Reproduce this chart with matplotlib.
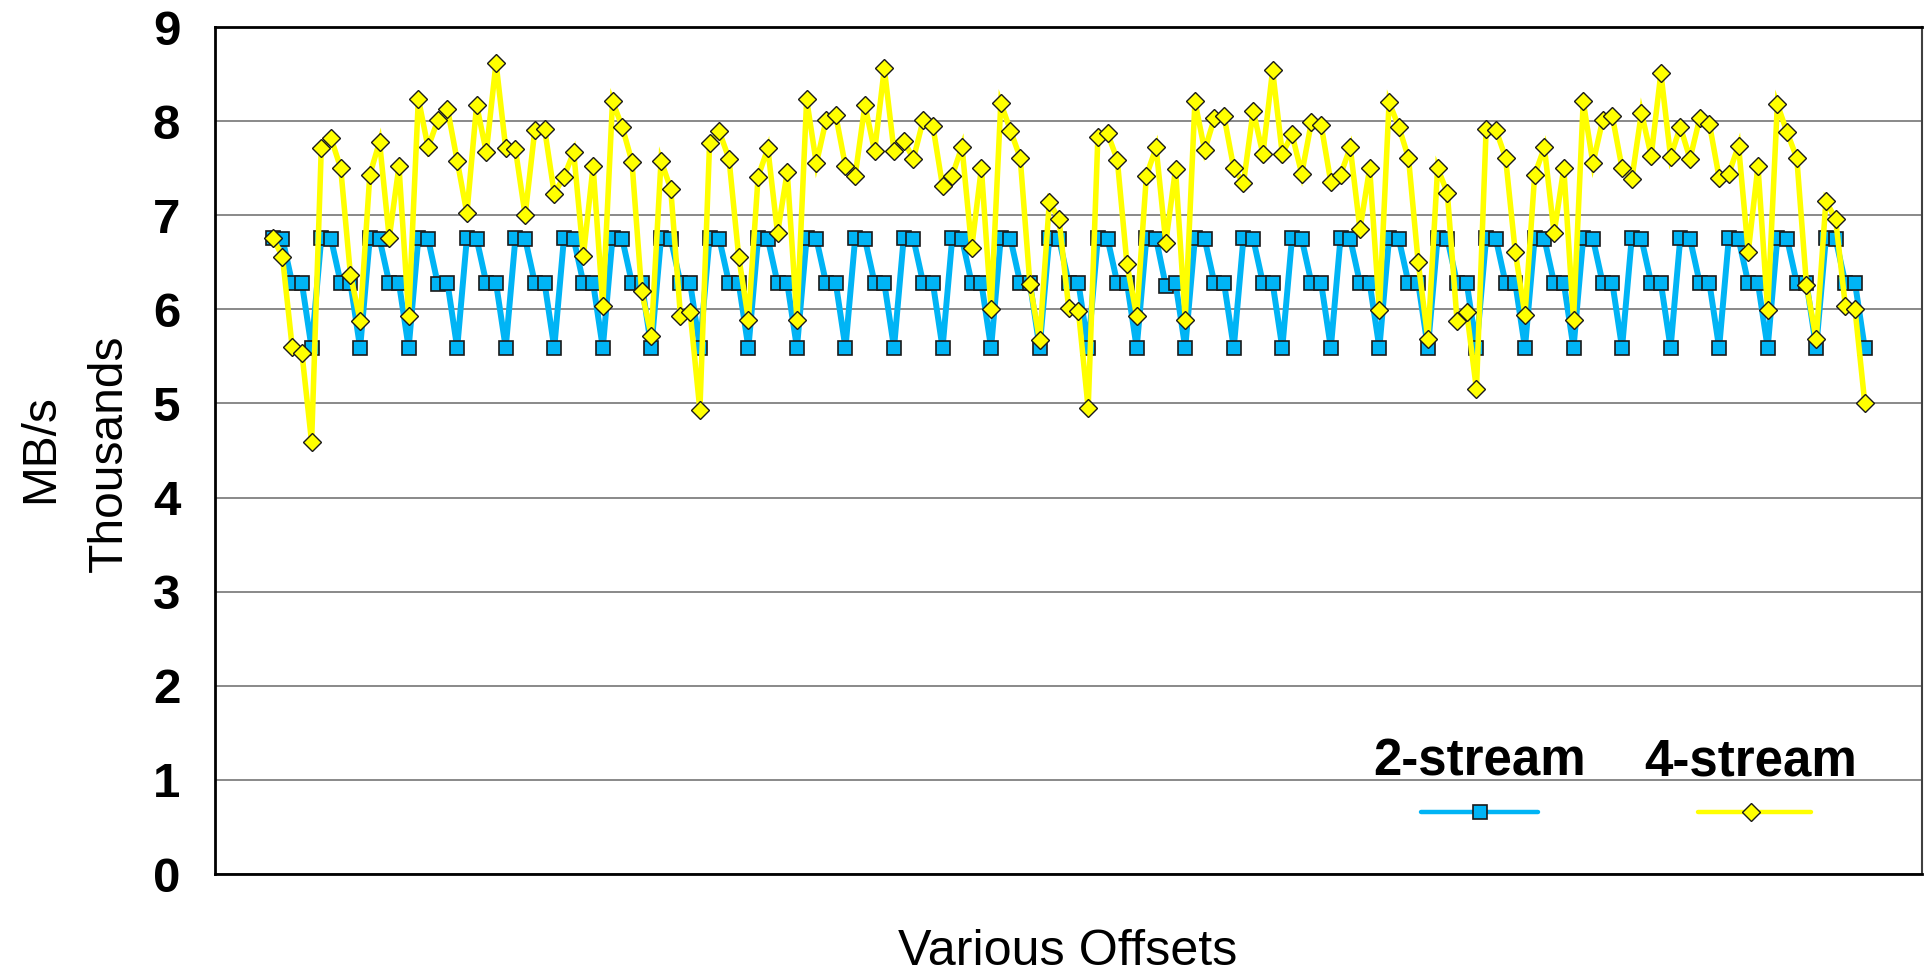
import matplotlib
matplotlib.use("Agg")
import matplotlib.pyplot as plt
import numpy as np
from matplotlib.lines import Line2D

plt.rcParams['font.family'] = ['Liberation Sans', 'DejaVu Sans']

# ---------------- data ----------------
series_names = ["2-stream", "4-stream"]
y_ticks = [0, 1, 2, 3, 4, 5, 6, 7, 8, 9]
x_label = "Various Offsets"
y_label_1 = "MB/s"
y_label_2 = "Thousands"

two_stream = [
    6.76, 6.75, 6.28, 6.28, 5.59,
    6.76, 6.75, 6.28, 6.28, 5.59,
    6.76, 6.75, 6.28, 6.28, 5.59,
    6.76, 6.75, 6.27, 6.28, 5.59,
    6.76, 6.75, 6.28, 6.28, 5.59,
    6.76, 6.75, 6.28, 6.28, 5.59,
    6.76, 6.75, 6.28, 6.28, 5.59,
    6.76, 6.75, 6.28, 6.28, 5.59,
    6.76, 6.75, 6.28, 6.28, 5.59,
    6.76, 6.75, 6.28, 6.28, 5.59,
    6.76, 6.75, 6.28, 6.28, 5.59,
    6.76, 6.75, 6.28, 6.28, 5.59,
    6.76, 6.75, 6.28, 6.28, 5.59,
    6.76, 6.75, 6.28, 6.28, 5.59,
    6.76, 6.75, 6.28, 6.28, 5.59,
    6.76, 6.75, 6.28, 6.28, 5.59,
    6.76, 6.75, 6.28, 6.28, 5.59,
    6.76, 6.75, 6.28, 6.28, 5.59,
    6.76, 6.75, 6.25, 6.28, 5.59,
    6.76, 6.75, 6.28, 6.28, 5.59,
    6.76, 6.75, 6.28, 6.28, 5.59,
    6.76, 6.75, 6.28, 6.28, 5.59,
    6.76, 6.75, 6.28, 6.28, 5.59,
    6.76, 6.75, 6.28, 6.28, 5.59,
    6.76, 6.75, 6.28, 6.28, 5.59,
    6.76, 6.75, 6.28, 6.28, 5.59,
    6.76, 6.75, 6.28, 6.28, 5.59,
    6.76, 6.75, 6.28, 6.28, 5.59,
    6.76, 6.75, 6.28, 6.28, 5.59,
    6.76, 6.75, 6.28, 6.28, 5.59,
    6.76, 6.75, 6.28, 6.28, 5.59,
    6.76, 6.75, 6.28, 6.28, 5.59,
    6.76, 6.75, 6.28, 6.28, 5.59,
]

four_stream = [
    6.76, 6.56, 5.60, 5.54, 4.59, 7.71, 7.82, 7.50, 6.37, 5.88,
    7.43, 7.78, 6.76, 7.52, 5.93, 8.24, 7.72, 8.01, 8.13, 7.58,
    7.02, 8.17, 7.67, 8.62, 7.71, 7.70, 7.00, 7.91, 7.92, 7.23,
    7.41, 7.67, 6.57, 7.52, 6.04, 8.21, 7.94, 7.57, 6.19, 5.72,
    7.58, 7.28, 5.93, 5.97, 4.93, 7.77, 7.89, 7.60, 6.56, 5.89,
    7.41, 7.71, 6.81, 7.46, 5.89, 8.23, 7.55, 8.01, 8.06, 7.52,
    7.42, 8.17, 7.68, 8.56, 7.68, 7.79, 7.60, 8.01, 7.95, 7.31,
    7.42, 7.73, 6.65, 7.50, 6.00, 8.19, 7.90, 7.61, 6.27, 5.67,
    7.14, 6.96, 6.01, 5.98, 4.95, 7.83, 7.87, 7.59, 6.48, 5.93,
    7.42, 7.72, 6.71, 7.49, 5.89, 8.21, 7.69, 8.03, 8.05, 7.50,
    7.34, 8.11, 7.65, 8.54, 7.65, 7.86, 7.44, 7.99, 7.96, 7.35,
    7.43, 7.72, 6.85, 7.50, 5.99, 8.20, 7.94, 7.61, 6.50, 5.68,
    7.50, 7.24, 5.88, 5.97, 5.15, 7.92, 7.91, 7.61, 6.61, 5.94,
    7.43, 7.72, 6.81, 7.50, 5.89, 8.21, 7.55, 8.01, 8.05, 7.50,
    7.38, 8.09, 7.63, 8.51, 7.62, 7.94, 7.60, 8.03, 7.97, 7.40,
    7.44, 7.74, 6.61, 7.52, 5.99, 8.18, 7.88, 7.61, 6.26, 5.68,
    7.15, 6.96, 6.04, 6.00, 5.01,
]

# ---------------- figure ----------------
W, H = 1925, 975
fig = plt.figure(figsize=(W / 100, H / 100), dpi=100)
ax = fig.add_axes([215 / W, 1 - 874 / H, (1922 - 215) / W, (874 - 27) / H])

blue = "#00B4F5"
yellow = "#FFFF00"
edge = "#1a1a1a"
sq_ms, sq_mew = 10.6, 1.2
dm_ms, dm_mew = 8.7, 1.0

x = np.arange(len(two_stream))
ax.plot(x, two_stream, color=blue, lw=4.3, marker='s', ms=sq_ms,
        mfc=blue, mec=edge, mew=sq_mew, zorder=3, solid_joinstyle='miter')
ax.plot(np.arange(len(four_stream)), four_stream, color=yellow, lw=4.0,
        marker='D', ms=dm_ms, mfc=yellow, mec=edge, mew=dm_mew, zorder=4,
        solid_joinstyle='miter')

ax.set_xlim(-5.95, len(two_stream) - 1 + 5.9)
ax.set_ylim(0, 9)
ax.set_yticks(y_ticks)
ax.set_yticklabels([str(t) for t in y_ticks], fontsize=35.5, fontweight='bold')
ax.tick_params(axis='y', length=0, pad=25)
ax.set_xticks([])

ax.yaxis.grid(True, color='#808080', lw=1.3)
ax.set_axisbelow(True)
for side in ['left', 'bottom', 'top']:
    ax.spines[side].set_color('black')
    ax.spines[side].set_linewidth(2)
ax.spines['right'].set_color('#404040')
ax.spines['right'].set_linewidth(1.5)

# axis titles
fig.text(1068 / W, 1 - 965 / H, x_label, fontsize=36.2, ha='center', va='baseline')
fig.text(53 / W, 1 - 449 / H, y_label_1, fontsize=34.5, rotation=90,
         rotation_mode='anchor', ha='center', va='baseline')
fig.text(122 / W, 1 - 453 / H, y_label_2, fontsize=34.5, rotation=90,
         rotation_mode='anchor', ha='center', va='baseline')

# legend (text above line sample)
leg_items = [
    (series_names[0], 1480, 1421, 1538, blue, 's', sq_ms, sq_mew),
    (series_names[1], 1751, 1698, 1811, yellow, 'D', dm_ms, dm_mew),
]
for name, cx, x0, x1, col, mk, ms, mew in leg_items:
    fig.text(cx / W, 1 - 775 / H, name, fontsize=36.7, fontweight='bold',
             ha='center', va='baseline')
    fig.add_artist(Line2D([x0 / W, x1 / W], [1 - 812 / H, 1 - 812 / H],
                          transform=fig.transFigure, color=col, lw=3.2,
                          solid_capstyle='round'))
    fig.add_artist(Line2D([cx / W], [1 - 812 / H], transform=fig.transFigure,
                          marker=mk, ms=ms, mfc=col, mec=edge, mew=mew,
                          ls='none'))

fig.savefig("out.png", dpi=100, facecolor='white')
